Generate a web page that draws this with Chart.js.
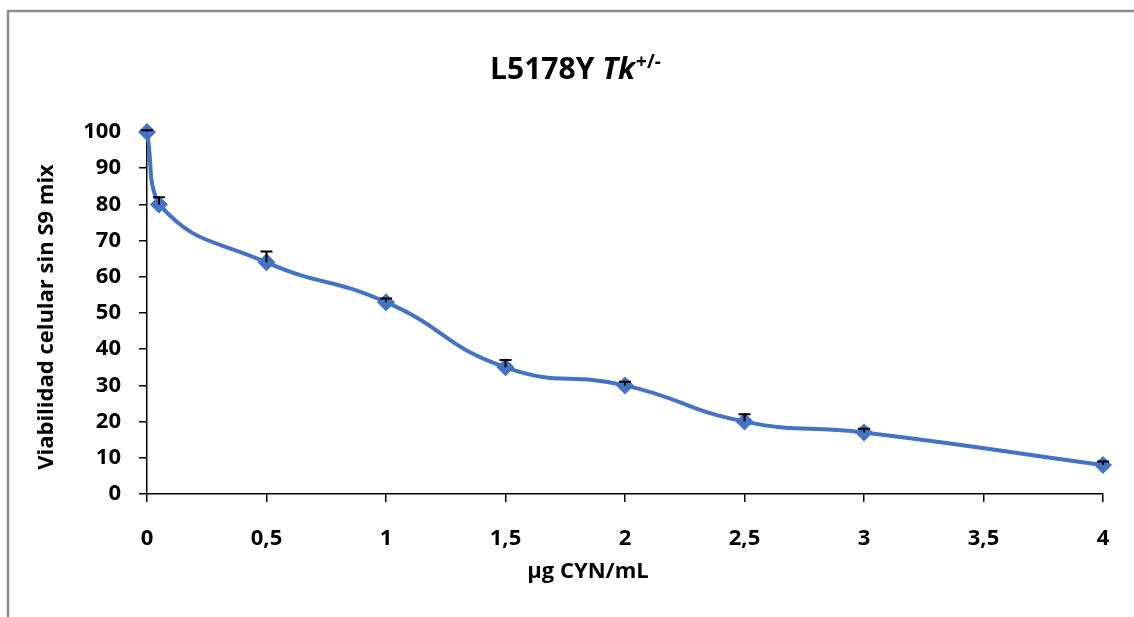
<!DOCTYPE html>
<html><head><meta charset="utf-8">
<script src="https://cdn.jsdelivr.net/npm/chart.js@4/dist/chart.umd.min.js"></script>
<style>html,body{margin:0;padding:0;background:#fff}#wrap{width:1134px;height:617px;position:relative}</style>
</head><body><div id="wrap"><canvas id="c" width="1134" height="617"></canvas></div>
<script>
const doses = [0, 0.05, 0.5, 1, 1.5, 2, 2.5, 3, 4];
const viability = [100, 80, 64, 53, 35, 30, 20, 17, 8];
const errors = [0.5, 2, 3, 1, 2, 1, 2, 1, 1];
const xTicks = [0, 0.5, 1, 1.5, 2, 2.5, 3, 3.5, 4];
const yTicks = [0, 10, 20, 30, 40, 50, 60, 70, 80, 90, 100];
const titleMain = 'L5178Y ';
const titleItalic = 'Tk';
const titleSup = '+/-';
const xTitle = 'µg CYN/mL';
const yTitle = 'Viabilidad celular sin S9 mix';

const FONT = '"Open Sans", Lato, sans-serif';
const points = doses.map((d, i) => ({x: d, y: viability[i]}));

const decor = {
  id: 'decor',
  beforeDraw(chart) {
    const ctx = chart.ctx;
    ctx.save();
    ctx.fillStyle = '#fff';
    ctx.fillRect(0, 0, chart.width, chart.height);
    ctx.strokeStyle = '#8c8c8c';
    ctx.lineWidth = 2.5;
    ctx.beginPath();
    ctx.moveTo(8, 620);
    ctx.lineTo(8, 11);
    ctx.lineTo(1140, 11);
    ctx.stroke();
    ctx.restore();
  },
  afterDatasetsDraw(chart) {
    const ctx = chart.ctx;
    const xs = chart.scales.x, ys = chart.scales.y;
    ctx.save();
    ctx.strokeStyle = '#000';
    ctx.lineWidth = 2;
    doses.forEach((d, i) => {
      const px = xs.getPixelForValue(d);
      const py0 = ys.getPixelForValue(viability[i]);
      const py1 = ys.getPixelForValue(viability[i] + errors[i]);
      ctx.beginPath();
      ctx.moveTo(px, py0);
      ctx.lineTo(px, py1);
      ctx.moveTo(px - 6, py1);
      ctx.lineTo(px + 6, py1);
      ctx.stroke();
    });
    ctx.restore();
  },
  afterDraw(chart) {
    const ctx = chart.ctx;
    ctx.save();
    ctx.fillStyle = '#000';
    ctx.textBaseline = 'alphabetic';
    const fMain = 'bold 30px ' + FONT;
    const fIt = 'italic bold 30px ' + FONT;
    const fSup = 'bold 19px ' + FONT;
    ctx.font = fMain; const w1 = ctx.measureText(titleMain).width;
    ctx.font = fIt; const w2 = ctx.measureText(titleItalic).width;
    ctx.font = fSup; const w3 = ctx.measureText(titleSup).width;
    let x = 575 - (w1 + w2 + w3) / 2;
    const base = 79;
    ctx.font = fMain; ctx.fillText(titleMain, x, base); x += w1;
    ctx.font = fIt; ctx.fillText(titleItalic, x, base); x += w2 + 1;
    ctx.font = fSup; ctx.fillText(titleSup, x, base - 11);
    ctx.font = 'bold 22px ' + FONT;
    ctx.textAlign = 'center';
    ctx.textBaseline = 'middle';
    ctx.fillText(xTitle, 588, 572);
    ctx.translate(47, 317);
    ctx.rotate(-Math.PI / 2);
    ctx.fillText(yTitle, 0, 0);
    ctx.restore();
  }
};

new Chart(document.getElementById('c'), {
  type: 'scatter',
  data: {
    datasets: [{
      data: points,
      showLine: true,
      clip: false,
      borderColor: '#4472C4',
      backgroundColor: '#4472C4',
      borderWidth: 4,
      tension: 0.5,
      pointStyle: 'rectRot',
      pointRadius: 9,
      pointHoverRadius: 9,
      pointBorderWidth: 0
    }]
  },
  plugins: [decor],
  options: {
    responsive: false,
    animation: false,
    events: [],
    layout: {padding: {left: 0, right: 31, top: 132, bottom: 0}},
    plugins: {legend: {display: false}, tooltip: {enabled: false}, title: {display: false}},
    scales: {
      x: {
        type: 'linear', min: 0, max: 4,
        afterBuildTicks(s) { s.ticks = xTicks.map(v => ({value: v})); },
        afterFit(s) { s.height = 123; },
        grid: {drawOnChartArea: false, drawTicks: true, tickLength: 8, color: '#000', lineWidth: 1.5},
        border: {color: '#000', width: 1.5},
        ticks: {
          padding: 24, color: '#000',
          font: {family: FONT, size: 22, weight: 'bold'},
          maxRotation: 0,
          callback: v => String(v).replace('.', ',')
        }
      },
      y: {
        type: 'linear', min: 0, max: 100,
        afterBuildTicks(s) { s.ticks = yTicks.map(v => ({value: v})); },
        afterFit(s) { s.width = 147; },
        grid: {drawOnChartArea: false, drawTicks: true, tickLength: 8, color: '#000', lineWidth: 1.5},
        border: {color: '#000', width: 1.5},
        ticks: {
          padding: 18, color: '#000',
          font: {family: FONT, size: 22, weight: 'bold'}
        }
      }
    }
  }
});
</script>
</body></html>
